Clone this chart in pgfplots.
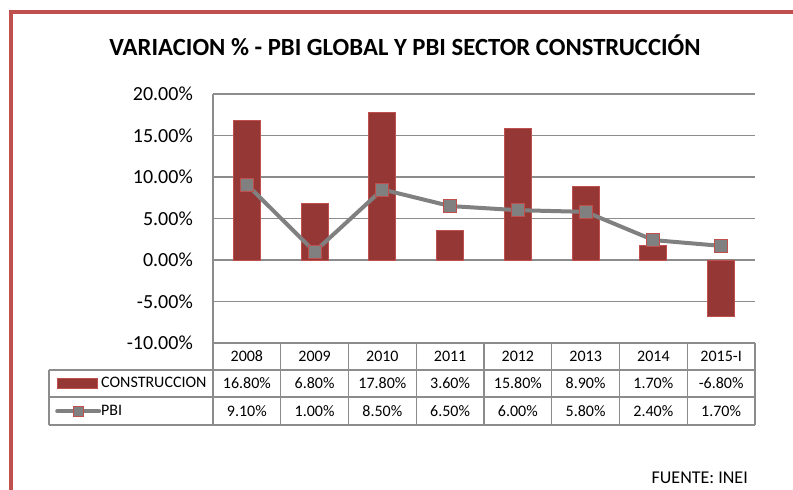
\documentclass[border=0pt]{standalone}
\usepackage{fontspec}
\setmainfont{Carlito}
\usepackage{pgfplots}
\pgfplotsset{compat=1.18}
\usepackage{pgfplotstable}

\definecolor{barRed}{HTML}{953735}
\definecolor{barEdge}{HTML}{C0504D}
\definecolor{lineGray}{HTML}{808080}
\definecolor{gridGray}{HTML}{8C8C8C}
\definecolor{frameRed}{HTML}{C0504D}

% x = posicion de la categoria, constr y pbi en %
\pgfplotstableread{
x constr pbi
0 16.8 9.1
1 6.8 1.0
2 17.8 8.5
3 3.6 6.5
4 15.8 6.0
5 8.9 5.8
6 1.7 2.4
7 -6.8 1.7
}\datos

\begin{document}
\begin{tikzpicture}
\begin{axis}[
    at={(213bp,147bp)}, anchor=south west,
    scale only axis, width=542bp, height=249bp,
    xmin=-0.5, xmax=7.5, ymin=-10, ymax=20,
    ytick={-10,-5,...,20}, xtick=\empty,
    axis y line*=left, axis x line*=bottom,
    axis line style={gridGray, line width=1.2bp, -},
    ymajorgrids, grid style={gridGray, line width=1.2bp},
    major tick length=0pt,
    /pgf/number format/assume math mode=true,
    yticklabel={\pgfmathprintnumber[fixed,fixed zerofill,precision=2]{\tick}\%},
    y tick label style={font=\fontsize{20bp}{24bp}\selectfont, anchor=east, inner sep=0pt, xshift=-20bp},
    clip=false,
    legend style={at={(axis description cs:-0.2915,-0.1345)}, anchor=north west,
        draw=none, fill=none, inner sep=0pt, row sep=13.5bp,
        font=\fontsize{16bp}{19bp}\selectfont,
        nodes={inner sep=0pt, text height=11bp, text depth=3bp}},
    legend cell align=left,
]
\addplot[ybar, bar width=27bp, bar shift=0pt, fill=barRed, draw=barEdge, line width=0.8bp,
    legend image code/.code={\draw[fill=barRed, draw=barEdge, line width=0.6bp] (0bp,-5bp) rectangle (40bp,5bp);}]
    table[x=x, y=constr]{\datos};
\addlegendentry{CONSTRUCCION}
\addplot[lineGray, line width=4bp, mark=square*, mark size=6.5bp,
    mark options={fill=lineGray, draw=barEdge, line width=0.8bp},
    legend image code/.code={\draw[lineGray, line width=4bp, line cap=round] (0bp,0bp) -- (42bp,0bp);
        \draw[fill=lineGray, draw=barEdge, line width=0.6bp] (16bp,-5bp) rectangle (26bp,5bp);}]
    table[x=x, y=pbi]{\datos};
\addlegendentry{PBI}
\end{axis}

% tabla de datos
\begin{scope}[gridGray, line width=1.2bp]
\foreach \k in {0,...,8} \draw ({213bp+67.75bp*\k},147bp) -- ({213bp+67.75bp*\k},65bp);
\draw (49bp,120bp) -- (49bp,65bp);
\foreach \yy in {120,93,65} \draw (49bp,\yy bp) -- (755bp,\yy bp);
\end{scope}
\begin{scope}[every node/.style={font=\fontsize{16bp}{19bp}\selectfont, inner sep=0pt}]
\foreach \t [count=\i from 0] in {2008,2009,2010,2011,2012,2013,2014,2015-I}
    \node at ({213bp+67.75bp*(\i+0.5)},133.5bp) {\t};
\foreach \t [count=\i from 0] in {16.80\%,6.80\%,17.80\%,3.60\%,15.80\%,8.90\%,1.70\%,-6.80\%}
    \node at ({213bp+67.75bp*(\i+0.5)},106.5bp) {\t};
\foreach \t [count=\i from 0] in {9.10\%,1.00\%,8.50\%,6.50\%,6.00\%,5.80\%,2.40\%,1.70\%}
    \node at ({213bp+67.75bp*(\i+0.5)},79bp) {\t};
\node[anchor=east, font=\fontsize{18bp}{21bp}\selectfont] at (748bp,12bp) {FUENTE: INEI};
\end{scope}

\node[font=\bfseries\fontsize{24.7bp}{29bp}\selectfont] at (405bp,445bp)
    {VARIACION \% - PBI GLOBAL Y PBI SECTOR CONSTRUCCIÓN};

\draw[frameRed, line width=3.5bp] (11bp,-10bp) -- (11bp,478bp) -- (810bp,478bp);

\pgfresetboundingbox
\useasboundingbox (0bp,0bp) rectangle (793bp,490bp);
\end{tikzpicture}
\end{document}
